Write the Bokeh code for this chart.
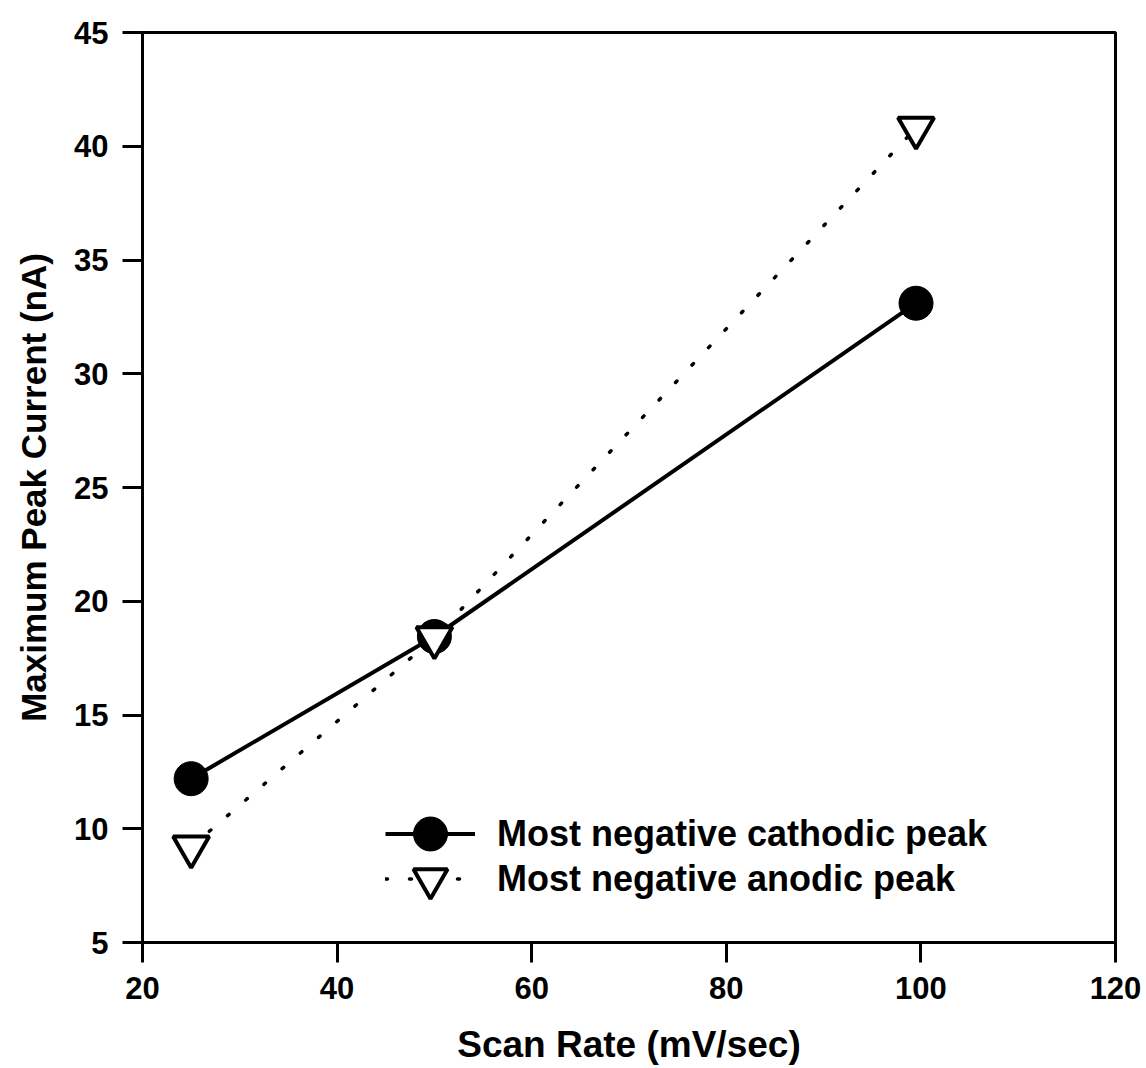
from bokeh.plotting import figure
from bokeh.embed import file_html
from bokeh.resources import INLINE
from bokeh.models import Legend, LegendItem, FixedTicker

scan_rate = [25, 50, 99.5]
cathodic = [12.2, 18.45, 33.1]
anodic = [9.2, 18.4, 40.8]
x_ticks = [20, 40, 60, 80, 100, 120]
y_ticks = [5, 10, 15, 20, 25, 30, 35, 40, 45]

FONT = "Liberation Sans"

p = figure(width=1146, height=1068, x_range=(20, 120), y_range=(5, 45),
           output_backend="svg", toolbar_location=None,
           min_border_left=142, min_border_right=31, min_border_top=32, min_border_bottom=126)
p.grid.visible = False
p.outline_line_color = "black"
p.outline_line_width = 3
p.background_fill_color = "white"
p.border_fill_color = "white"

for ax in (p.xaxis, p.yaxis):
    ax.axis_line_width = 3
    ax.axis_line_color = "black"
    ax.major_tick_out = 20
    ax.major_tick_in = 0
    ax.major_tick_line_width = 3
    ax.minor_tick_out = 0
    ax.minor_tick_in = 0
    ax.major_label_text_font = FONT
    ax.major_label_text_font_size = "31px"
    ax.major_label_text_font_style = "bold"
    ax.major_label_text_color = "black"
    ax.axis_label_text_font = FONT
    ax.axis_label_text_font_style = "bold"
    ax.axis_label_text_color = "black"

p.xaxis.axis_label_text_font_size = "37px"
p.yaxis.axis_label_text_font_size = "35px"
p.xaxis.ticker = FixedTicker(ticks=x_ticks)
p.yaxis.ticker = FixedTicker(ticks=y_ticks)
p.xaxis.major_label_standoff = 14
p.yaxis.major_label_standoff = 14
p.xaxis.axis_label = "Scan Rate (mV/sec)"
p.yaxis.axis_label = "Maximum Peak Current (nA)"
p.xaxis.axis_label_standoff = 22
p.yaxis.axis_label_standoff = 18

l1 = p.line(scan_rate, cathodic, line_color="black", line_width=4)
c1 = p.scatter(scan_rate, cathodic, marker="circle", size=34, fill_color="black", line_color="black")
l2 = p.line(scan_rate, anodic, line_color="black", line_width=3.5, line_dash="2 22", line_cap="round")
t2 = p.scatter(scan_rate, anodic, marker="inverted_triangle", size=36, fill_color="white",
               line_color="black", line_width=4)


def make_legend(item, loc):
    lg = Legend(items=[item], location=loc)
    lg.border_line_color = None
    lg.background_fill_alpha = 0
    lg.label_text_font = FONT
    lg.label_text_font_size = "36px"
    lg.label_text_font_style = "bold"
    lg.label_text_color = "black"
    lg.glyph_width = 90
    lg.glyph_height = 85
    lg.label_standoff = 22
    lg.padding = 5
    return lg


p.add_layout(make_legend(LegendItem(label="Most negative cathodic peak", renderers=[l1, c1]), (243, 66)), "center")
p.add_layout(make_legend(LegendItem(label="Most negative anodic peak", renderers=[l2, t2]), (243, 21)), "center")

open("out.html", "w").write(file_html(p, INLINE))
